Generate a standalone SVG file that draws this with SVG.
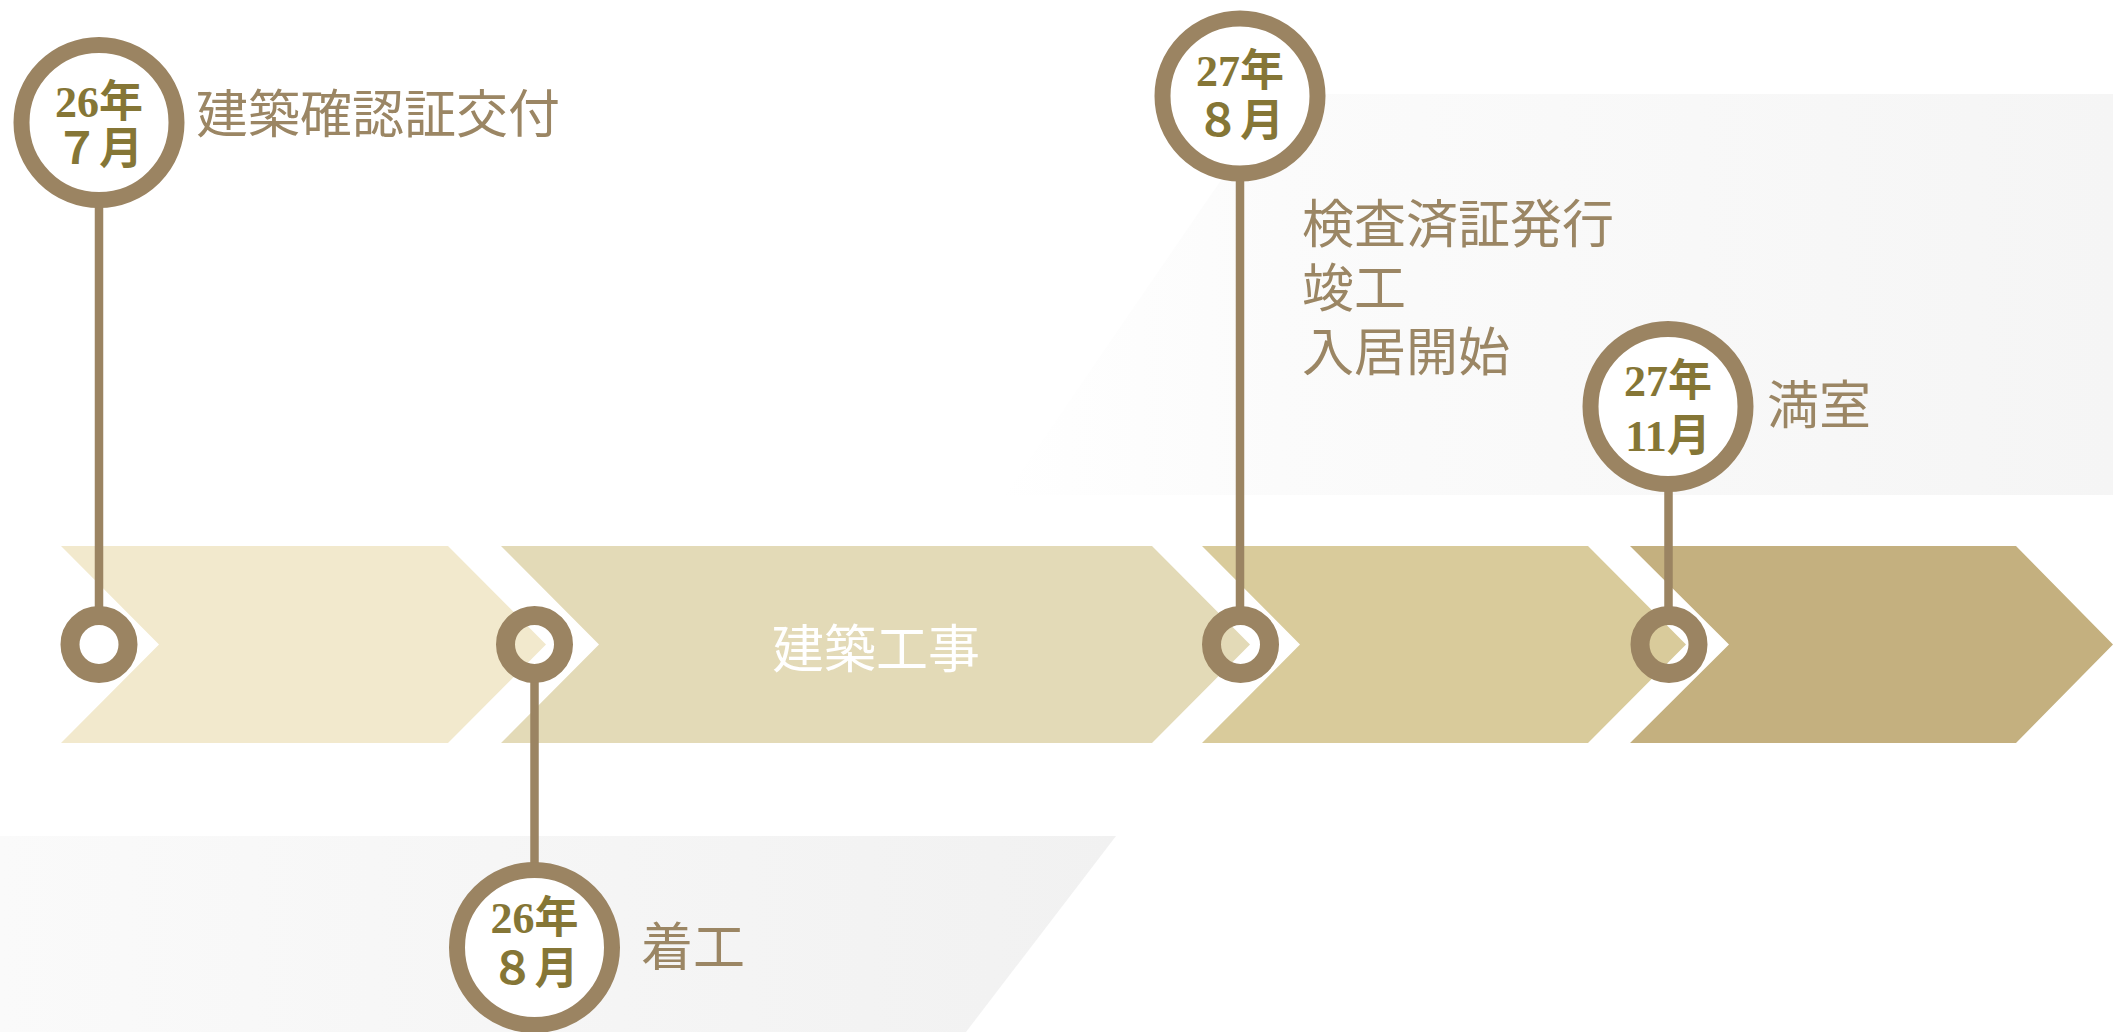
<svg xmlns="http://www.w3.org/2000/svg" width="2113" height="1032" viewBox="0 0 2113 1032">
<defs>
<linearGradient id="gTop" gradientUnits="userSpaceOnUse" x1="1000" y1="0" x2="2113" y2="0">
<stop offset="0" stop-color="#ffffff"/>
<stop offset="0.25" stop-color="#fbfbfb"/>
<stop offset="1" stop-color="#f5f5f5"/>
</linearGradient>
<linearGradient id="gBot" gradientUnits="userSpaceOnUse" x1="0" y1="0" x2="1116" y2="0">
<stop offset="0" stop-color="#fafafa"/>
<stop offset="1" stop-color="#f1f1f1"/>
</linearGradient>
<style>
.big{fill:#ffffff;stroke:#9b8462;stroke-width:16}
.small{fill:none;stroke:#9b8462;stroke-width:19}
.stem{stroke:#9b8462;stroke-width:8.5}
.date{font-family:"Liberation Serif","Noto Sans CJK JP",serif;font-weight:bold;font-size:44px;fill:#857636;text-anchor:middle}
.lbl{font-family:"Noto Sans CJK JP",sans-serif;font-size:52px;fill:#9b8664}
.inner{font-family:"Noto Sans CJK JP",sans-serif;font-size:52px;fill:#ffffff;text-anchor:middle}
</style>
</defs>
<rect width="2113" height="1032" fill="#ffffff"/>
<g id="backgrounds">
<polygon points="1280,94 2113,94 2113,495 1005,495" fill="url(#gTop)"/>
<polygon points="0,836 1116,836 966,1032 0,1032" fill="url(#gBot)"/>
</g>
<g id="chevrons">
<polygon id="chev1" points="61,546 448,546 546,644.5 448,743 61,743 159,644.5" fill="#f2e9cd"/>
<polygon id="chev2" points="501,546 1152,546 1250,644.5 1152,743 501,743 599,644.5" fill="#e3dab7"/>
<text class="inner" x="876" y="668">建築工事</text>
<polygon id="chev3" points="1202,546 1588,546 1686,644.5 1588,743 1202,743 1300,644.5" fill="#d9cb9b"/>
<polygon id="chev4" points="1630,546 2016,546 2113,644.5 2016,743 1630,743 1729,644.5" fill="#c4b07f"/>
</g>
<g id="connectors">
<line class="stem" x1="99" y1="200" x2="99" y2="610"/>
<line class="stem" x1="1240" y1="175" x2="1240" y2="610"/>
<line class="stem" x1="1668.5" y1="485" x2="1668.5" y2="610"/>
<line class="stem" x1="534.5" y1="680" x2="534.5" y2="868"/>
</g>
<g id="markers">
<circle class="small" cx="99" cy="644.5" r="29"/>
<circle class="small" cx="534.5" cy="644.5" r="29"/>
<circle class="small" cx="1240.5" cy="644.5" r="29"/>
<circle class="small" cx="1669" cy="644.5" r="29"/>
</g>
<g id="m1">
<circle class="big" cx="99" cy="122.5" r="77.5"/>
<text class="date" x="99" y="117">26年</text>
<text class="date" x="99" y="164">７月</text>
<text class="lbl" x="196" y="133">建築確認証交付</text>
</g>
<g id="m2">
<circle class="big" cx="534.5" cy="947.5" r="77.5"/>
<text class="date" x="534.5" y="933">26年</text>
<text class="date" x="534.5" y="984">８月</text>
<text class="lbl" x="641" y="966">着工</text>
</g>
<g id="m3">
<circle class="big" cx="1240" cy="96" r="77.5"/>
<text class="date" x="1240" y="86">27年</text>
<text class="date" x="1240" y="136">８月</text>
<text class="lbl" x="1302" y="243">検査済証発行<tspan x="1302" dy="64">竣工</tspan><tspan x="1302" dy="64">入居開始</tspan></text>
</g>
<g id="m4">
<circle class="big" cx="1668" cy="406.5" r="77.5"/>
<text class="date" x="1668" y="396">27年</text>
<text class="date" x="1668" y="451">11月</text>
<text class="lbl" x="1767" y="424">満室</text>
</g>
</svg>
